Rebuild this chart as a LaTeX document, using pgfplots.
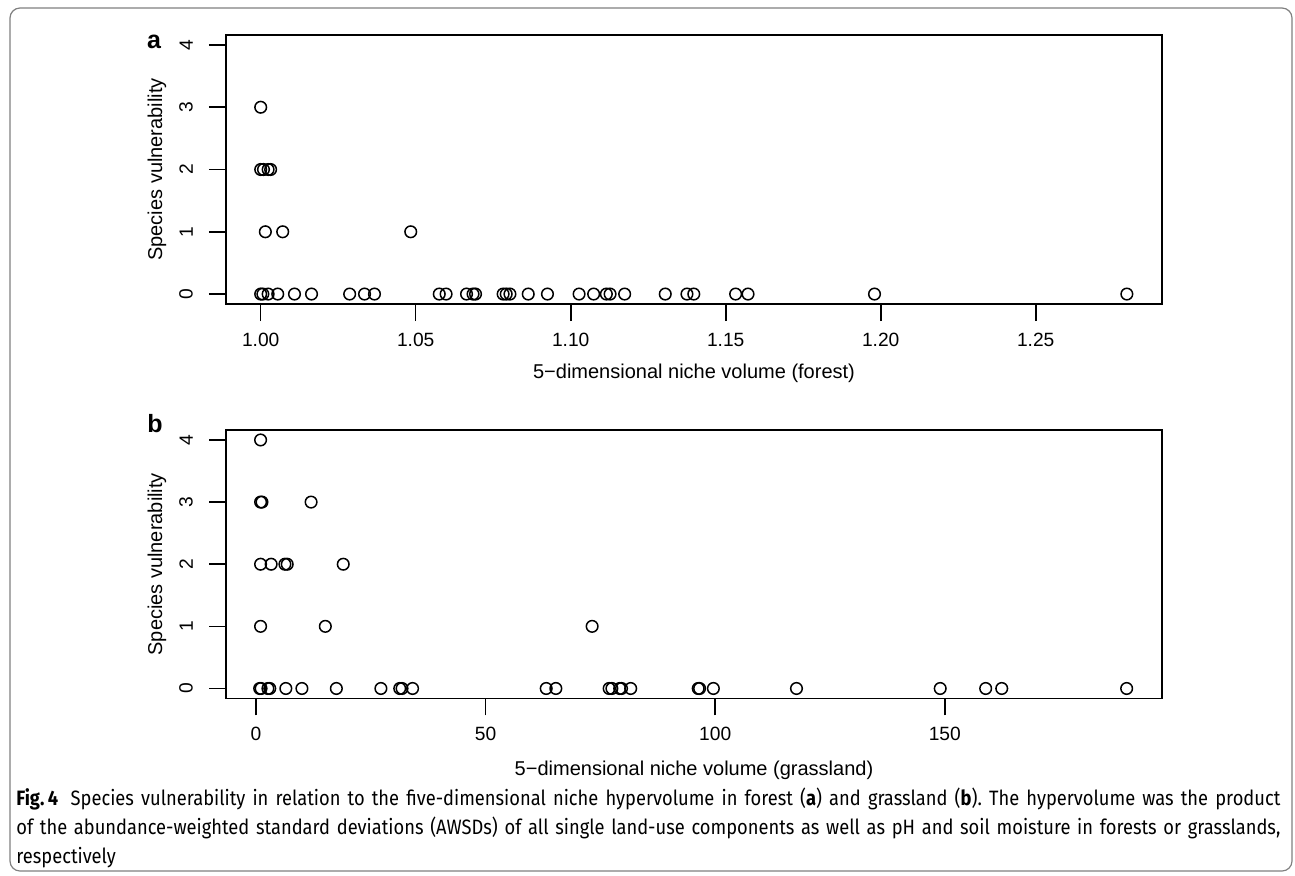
\documentclass[border=0pt]{standalone}
\usepackage{fontspec}
\setmainfont{Liberation Sans}
\newfontfamily\capfont[FakeStretch=0.88]{Fira Sans}
\usepackage{pgfplots}
\usepackage{pgfplotstable}
\pgfplotsset{compat=1.18}

% forest: niche volume vs vulnerability
\pgfplotstableread{
x y
1.0000 3
1.0000 2
1.0009 2
1.0024 2
1.0032 2
1.0015 1
1.0071 1
1.0484 1
1.0000 0
1.0007 0
1.0024 0
1.0055 0
1.0109 0
1.0164 0
1.0287 0
1.0335 0
1.0367 0
1.0576 0
1.0598 0
1.0664 0
1.0685 0
1.0693 0
1.0782 0
1.0792 0
1.0804 0
1.0863 0
1.0925 0
1.1027 0
1.1074 0
1.1115 0
1.1127 0
1.1174 0
1.1305 0
1.1375 0
1.1397 0
1.1532 0
1.1572 0
1.1980 0
1.2794 0
}\forest

% grassland
\pgfplotstableread{
x y
1.0 4
1.0 3
1.3 3
12.0 3
1.0 2
3.3 2
6.3 2
6.8 2
19.0 2
1.0 1
15.1 1
73.2 1
0.8 0
1.1 0
2.6 0
3.0 0
6.5 0
10.0 0
17.5 0
27.2 0
31.3 0
31.8 0
34.1 0
63.2 0
65.3 0
76.9 0
77.5 0
79.2 0
79.6 0
81.6 0
96.3 0
96.6 0
99.6 0
117.7 0
149.0 0
158.9 0
162.4 0
189.6 0
}\grass

\pgfplotsset{rbase/.style={
  scale only axis, width=468pt,
  axis line style={line width=0.8pt},
  tick align=outside, xtick pos=bottom, ytick pos=left,
  major tick length=8.5pt,
  tick style={line width=0.8pt, black},
  ymin=-0.16, ymax=4.16, ytick={0,1,2,3,4},
  /pgf/number format/assume math mode=true,
  yticklabel style={rotate=90, anchor=south, font=\fontsize{9.6}{10}\selectfont},
  yticklabel shift=4.5pt,
  xticklabel style={anchor=north, font=\fontsize{9.6}{10}\selectfont},
  xticklabel shift=2.5pt,
  label style={font=\fontsize{11.3}{12}\selectfont},
  ylabel={Species vulnerability},
  every axis y label/.style={at={(axis description cs:-0.0737,0.5)}, rotate=90, anchor=center},
}}

\begin{document}
\begin{tikzpicture}
\useasboundingbox (0,0) rectangle (647.5pt,-437.5pt);
\draw[black!50, line width=0.6pt, rounded corners=5pt] (5pt,-4pt) rectangle (646pt,-435.5pt);

\begin{axis}[rbase, at={(113pt,-17.5pt)}, anchor=north west, height=134.5pt,
  xmin=0.98881, xmax=1.29074,
  xtick={1.00,1.05,1.10,1.15,1.20,1.25},
  xticklabels={1.00,1.05,1.10,1.15,1.20,1.25},
  xlabel={5\textminus dimensional niche volume (forest)},
  every axis x label/.style={at={(axis description cs:0.5,-0.2565)}, anchor=center}]
\addplot[only marks, mark=o, mark size=2.9pt, line width=0.75pt, black] table[x=x, y=y] {\forest};
\end{axis}
\node[anchor=base, font=\fontsize{12.5}{13}\selectfont\bfseries] at (77pt,-24pt) {a};

\begin{axis}[rbase, at={(113pt,-215pt)}, anchor=north west, height=134.2pt,
  xmin=-6.53, xmax=197.3,
  xtick={0,50,100,150},
  xlabel={5\textminus dimensional niche volume (grassland)},
  every axis x label/.style={at={(axis description cs:0.5,-0.267)}, anchor=center}]
\addplot[only marks, mark=o, mark size=2.9pt, line width=0.75pt, black] table[x=x, y=y] {\grass};
\end{axis}
\node[anchor=base, font=\fontsize{12.5}{13}\selectfont\bfseries] at (77.5pt,-216pt) {b};

\node[anchor=north west, inner sep=0pt, text width=632pt, align=justify,
  font=\capfont\fontsize{10.4}{14.35}\selectfont\frenchspacing] at (8pt,-394pt)
  {\textbf{Fig.\,4}\hspace{0.6em}Species vulnerability in relation to the five-dimensional niche hypervolume in forest (\textbf{a}) and grassland (\textbf{b}). The hypervolume was the product\linebreak
  of the abundance-weighted standard deviations (AWSDs) of all single land-use components as well as pH and soil moisture in forests or grasslands,\linebreak
  respectively};
\end{tikzpicture}
\end{document}
